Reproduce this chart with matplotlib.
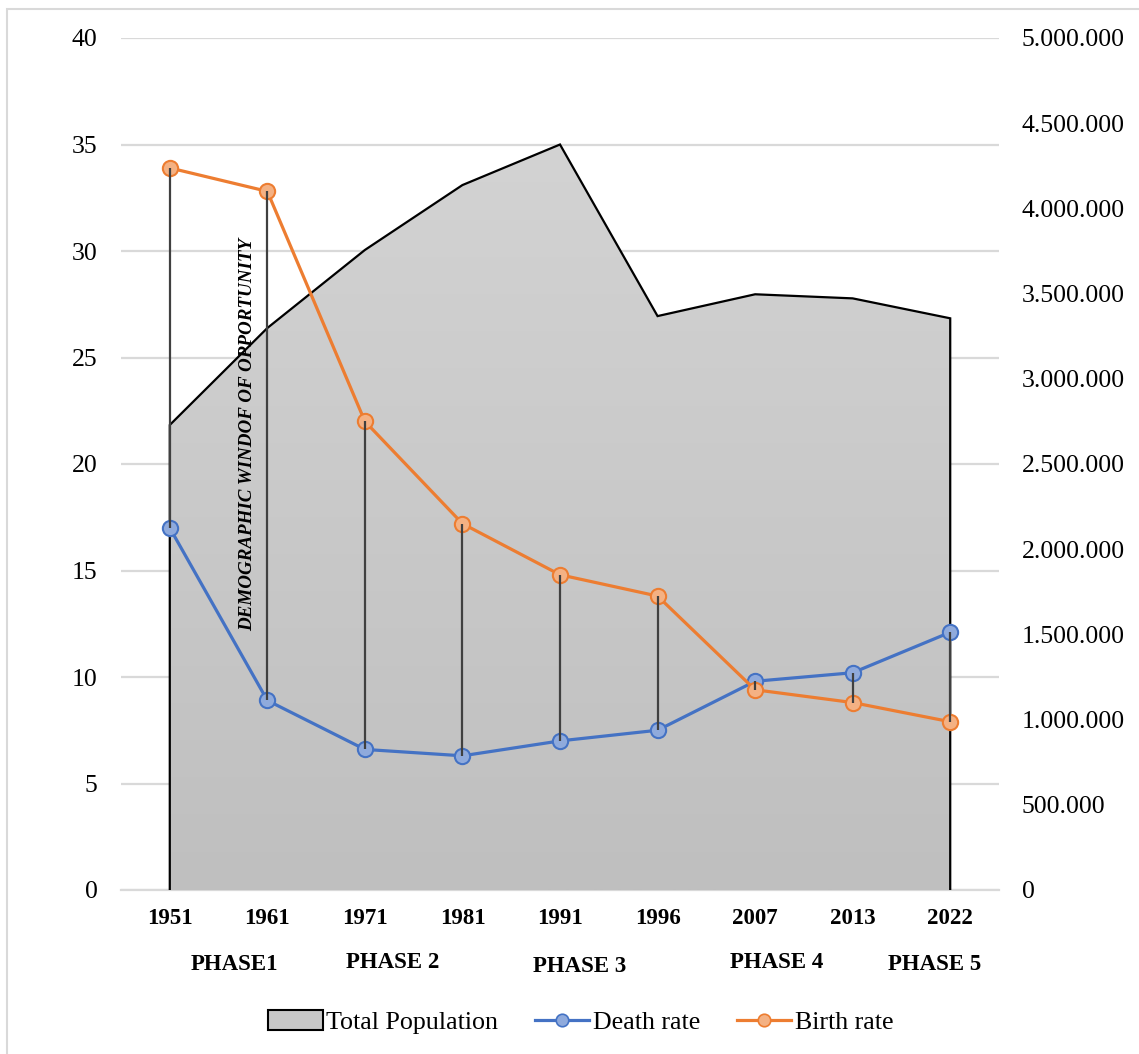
import matplotlib
matplotlib.use('Agg')
import matplotlib.pyplot as plt
import numpy as np
from matplotlib.ticker import FuncFormatter
from matplotlib.lines import Line2D
from matplotlib.patches import Patch, Rectangle, Polygon
from matplotlib.colors import LinearSegmentedColormap
import matplotlib.transforms as mtransforms

years = ['1951', '1961', '1971', '1981', '1991', '1996', '2007', '2013', '2022']
total_population = [2729000, 3298000, 3756000, 4137000, 4375000, 3368000, 3496000, 3472000, 3355000]
death_rate = [17.0, 8.9, 6.6, 6.3, 7.0, 7.5, 9.8, 10.2, 12.1]
birth_rate = [33.9, 32.8, 22.0, 17.2, 14.8, 13.8, 9.4, 8.8, 7.9]
phase_labels = ['PHASE1', 'PHASE 2', 'PHASE 3', 'PHASE 4', 'PHASE 5']
phase_positions = [0.66, 2.29, 4.20, 6.22, 7.84]
annotation = 'DEMOGRAPHIC WINDOF OF OPPORTUNITY'
left_ticks = list(range(0, 41, 5))
right_ticks = list(range(0, 5000001, 500000))

plt.rcParams['font.family'] = ['Liberation Serif', 'DejaVu Serif']

W, H = 1139, 1054
fig = plt.figure(figsize=(W / 100, H / 100), dpi=100)
rect = [121 / W, 1 - 890 / H, (999 - 121) / W, (890 - 38) / H]

ax = fig.add_axes(rect)
ax2 = ax.twinx()
ax3 = fig.add_axes(rect, sharex=ax, sharey=ax)
ax3.set_axis_off()

x = np.arange(len(years))
pop = np.array(total_population, dtype=float)
br = np.array(birth_rate)
dr = np.array(death_rate)

# gridlines (left axis)
ax.set_yticks(left_ticks)
ax.set_ylim(0, 40)
ax.set_xlim(-0.5, len(years) - 0.5)
ax.yaxis.grid(True, color='#d9d9d9', lw=1.6)
ax.set_axisbelow(True)
for s in ['top', 'right', 'left']:
    ax.spines[s].set_visible(False)
ax.spines['bottom'].set_color('#d9d9d9')
ax.spines['bottom'].set_linewidth(1.6)
ax.tick_params(axis='y', length=0, labelsize=18.5, pad=17, colors='black')
ax.set_xticks(x)
ax.set_xticklabels(years, fontweight='bold', fontsize=16.5)
ax.tick_params(axis='x', length=0, pad=13)

# population area with gradient
verts = [(0, 0)] + list(zip(x, pop)) + [(x[-1], 0)]
poly = Polygon(verts, closed=True, facecolor='none', edgecolor='none')
ax2.add_patch(poly)
cmap = LinearSegmentedColormap.from_list('g', ['#bfbfbf', '#d3d3d3'])
grad = np.linspace(0, 1, 256).reshape(-1, 1)
im = ax2.imshow(grad, extent=[x[0], x[-1], 0, pop.max()], aspect='auto',
                cmap=cmap, origin='lower', zorder=1)
im.set_clip_path(poly)
ax2.plot(np.r_[x[0], x, x[-1]], np.r_[0, pop, 0],
         color='black', lw=1.6, zorder=2, solid_joinstyle='miter')
ax2.set_ylim(0, 5000000)
ax2.set_xlim(-0.5, len(years) - 0.5)
ax2.set_yticks(right_ticks)
ax2.yaxis.set_major_formatter(FuncFormatter(lambda v, p: f'{int(v):,}'.replace(',', '.')))
ax2.tick_params(axis='y', length=0, labelsize=18.5, pad=16.5)
for s in ax2.spines.values():
    s.set_visible(False)

# rate lines
ax3.plot(x, dr, color='#4472c4', lw=2.3, marker='o', ms=11, mfc='#8faadc',
         mec='#4472c4', mew=1.5, zorder=3)
ax3.plot(x, br, color='#ed7d31', lw=2.3, marker='o', ms=11, mfc='#f4b183',
         mec='#ed7d31', mew=1.5, zorder=4)
ax3.vlines(x, np.minimum(br, dr), np.maximum(br, dr), color='#404040', lw=1.6, zorder=5)
ax3.set_xlim(-0.5, len(years) - 0.5)
ax3.set_ylim(0, 40)

ax3.text(0.80, 21.4, annotation, rotation=90, ha='center', va='center',
         fontsize=13.7, fontweight='bold', fontstyle='italic', color='black')

# phase labels
trans = mtransforms.blended_transform_factory(ax.transData, fig.transFigure)
phase_y = [965, 963, 966, 963, 965]
for lab, px, py in zip(phase_labels, phase_positions, phase_y):
    ax.text(px, 1 - py / H, lab, transform=trans, ha='center', va='center',
            fontsize=16.5, fontweight='bold', color='black')

# legend
handles = [
    Patch(facecolor='#c8c8c8', edgecolor='black', lw=1.5),
    Line2D([], [], color='#4472c4', lw=2.3, marker='o', ms=9, mfc='#8faadc', mec='#4472c4', mew=1.2),
    Line2D([], [], color='#ed7d31', lw=2.3, marker='o', ms=9, mfc='#f4b183', mec='#ed7d31', mew=1.2),
]
fig.legend(handles, ['Total Population', 'Death rate', 'Birth rate'], loc='center',
           bbox_to_anchor=(581 / W, 1 - 1022 / H), ncol=3, frameon=False, fontsize=18.7,
           handlelength=2.1, handletextpad=0.15, columnspacing=1.4, handleheight=0.8)

# outer border
fig.add_artist(Rectangle((7 / W, -0.1), 1.2, 1 - 9 / H + 0.1, fill=False,
                         edgecolor='#d9d9d9', lw=1.5, transform=fig.transFigure))

fig.savefig('out.png', dpi=100)
